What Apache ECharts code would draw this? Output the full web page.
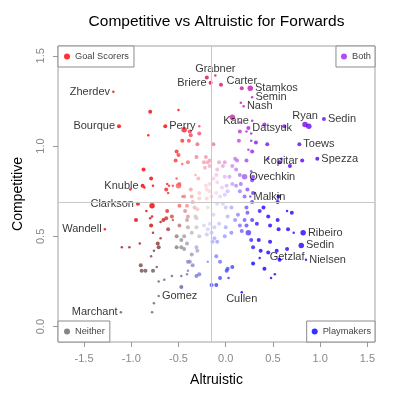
<!DOCTYPE html>
<html lang="en">
<head>
  <meta charset="UTF-8">
  <title>Competitive vs Altruistic for Forwards</title>
  <script src="https://cdn.jsdelivr.net/npm/echarts@6/dist/echarts.min.js"></script>
</head>
<body style="margin:0;background:#fff">
  <div id="main" style="width:400px;height:400px;"></div>
  <script type="text/javascript">
    // labelled forwards first, in the same order as the value arrays
    const players = ['Zherdev', 'Bourque', 'Perry', 'Knuble', 'Clarkson', 'Wandell', 'Marchant', 'Gomez',
      'Grabner', 'Briere', 'Carter', 'Stamkos', 'Semin', 'Nash', 'Kane', 'Datsyuk', 'Ryan', 'Sedin',
      'Toews', 'Kopitar', 'Spezza', 'Ovechkin', 'Malkin', 'Ribeiro', 'Sedin', 'Getzlaf', 'Nielsen', 'Cullen']
    const labelSide = ['left', 'left', 'right', 'left', 'left', 'left', 'left', 'right',
      'top', 'left', 'top', 'right', 'right', 'right', 'left', 'right', 'top', 'right',
      'right', 'left', 'right', 'right', 'right', 'right', 'right', 'bottom', 'right', 'bottom']

    const altruistic = [
      // labelled
      -1.19, -1.13, -0.64, -0.88, -0.93, -1.28, -1.11, -0.71, -0.11, -0.16, 0.17, 0.26, 0.28, 0.19,
      0.28, 0.24, 0.84, 1.04, 0.78, 0.81, 0.97, 0.20, 0.26, 0.82, 0.80, 0.65, 0.85, 0.17,
      // upper left
      -0.80, -0.50, -0.82, -0.44, -0.38, -0.28, -0.28, -0.37, -0.46, -0.39, -0.30, -0.52, -0.50, -0.53,
      -0.40, -0.46, -0.31, -0.21, -0.17, -0.19, -0.23, -0.22, -0.17, -0.87, -0.79, -0.77, -0.86, -1.01,
      -0.62, -0.60, -0.52, -0.49, -0.50, -0.56, -0.63, -0.61, -0.44, -0.37, -0.32, -0.21, -0.17, -0.20,
      -0.28, -0.36, -0.13, -0.29,
      // upper right
      -0.20, -0.05, 0.07, 0.16, 0.15, 0.22, 0.27, 0.41, 0.62, 0.88, 0.44, 0.27, 0.32, 0.14, 0.15, 0.22,
      0.24, 0.10, 0.12, 0.27, 0.45, 0.59, 0.57, 0.68, 0.29, 0.28, 0.56, 0.55, 0.07, 0.11, 0.15, 0.04,
      -0.09, -0.03, -0.01, -0.09, 0.01, 0.07, 0.15, 0.02, 0.20, 0.28, 0.11, 0.16, 0.23, 0.29, -0.07,
      -0.01, -0.10, -0.13, -0.04, -0.10, -0.01, -0.06, -0.17, -0.15,
      // lower left
      -0.78, -0.46, -0.35, -0.28, -0.20, -0.49, -0.41, -0.33, -0.09, 0.00, -0.95, -0.78, -0.80, -0.69,
      -0.66, -0.63, -0.57, -0.56, -0.79, -0.77, -0.61, -0.49, -0.41, -0.40, -0.31, -0.40, -0.36, -0.31,
      -0.52, -0.44, -0.47, -0.28, -0.20, -0.23, -0.17, -0.12, -0.07, 0.00, -0.69, -0.72, -0.71, -1.10,
      -1.02, -0.91, -0.79, -0.76, -0.90, -0.89, -0.85, -0.77, -0.73, -0.52, -0.47, -0.44, -0.41, -0.36,
      -0.38, -0.35, -0.40, -0.31, -0.30, -0.47, -0.57, -0.65, -0.71, -0.41, -0.40, -0.31, -0.28, -0.47,
      -0.76, -0.78, -0.15, -0.10, -0.10, -0.06, -0.19, 0.02, -0.12, -0.09, -0.14, -0.62, -0.43, -0.30,
      -0.19, -0.32, -0.15, -0.19, -0.03, 0.02, -0.84,
      // lower right
      0.10, 0.13, 0.20, 0.22, 0.15, 0.17, 0.28, 0.22, 0.06, 0.28, 0.23, 0.40, 0.36, 0.45, 0.65, 0.70,
      0.55, -0.13, 0.33, 0.47, 0.24, 0.35, 0.27, 0.29, 0.47, 0.56, 0.66, 0.72, 0.54, 0.45, 0.37, 0.36,
      0.57, 0.29, 0.41, 0.52, 0.48, 0.07, 0.01, -0.06, 0.03, 0.06, -0.01
    ]

    const competitive = [
      1.30, 1.11, 1.11, 0.78, 0.68, 0.54, 0.08, 0.17, 1.39, 1.35, 1.32, 1.32, 1.27, 1.22,
      1.14, 1.10, 1.12, 1.15, 1.01, 0.92, 0.93, 0.83, 0.72, 0.52, 0.45, 0.43, 0.37, 0.19,

      1.19, 1.20, 1.06, 1.09, 1.08, 1.11, 1.07, 1.06, 1.03, 1.03, 1.01, 0.97, 0.95, 0.92,
      0.91, 0.90, 0.94, 0.94, 0.92, 0.91, 0.91, 0.88, 0.89, 0.87, 0.82, 0.78, 0.77, 0.76,
      0.79, 0.78, 0.82, 0.79, 0.78, 0.78, 0.76, 0.74, 0.72, 0.76, 0.84, 0.78, 0.79, 0.76,
      0.74, 0.72, 1.01, 0.82,

      1.38, 1.34, 1.16, 1.24, 1.13, 1.08, 1.07, 1.12, 1.11, 1.11, 1.01, 1.03, 1.02, 1.03, 1.08, 0.92,
      0.98, 0.93, 0.92, 0.86, 0.93, 0.93, 0.91, 0.89, 0.83, 0.81, 0.72, 0.69, 0.89, 0.87, 0.84, 0.83,
      0.87, 0.89, 0.83, 0.80, 0.78, 0.79, 0.75, 0.75, 0.72, 0.97, 0.78, 0.79, 0.76, 0.74, 0.91,
      0.91, 0.84, 0.82, 0.77, 0.74, 0.73, 0.72, 0.75, 0.72,

      0.67, 0.72, 0.69, 0.71, 0.71, 0.67, 0.67, 0.66, 0.68, 0.66, 0.59, 0.61, 0.60, 0.58,
      0.59, 0.60, 0.61, 0.59, 0.56, 0.52, 0.54, 0.56, 0.59, 0.61, 0.60, 0.55, 0.52, 0.55,
      0.50, 0.50, 0.48, 0.50, 0.51, 0.56, 0.57, 0.55, 0.57, 0.55, 0.49, 0.46, 0.44, 0.44,
      0.44, 0.46, 0.39, 0.42, 0.34, 0.31, 0.31, 0.31, 0.33, 0.44, 0.44, 0.43, 0.46, 0.40,
      0.36, 0.34, 0.36, 0.44, 0.42, 0.28, 0.28, 0.26, 0.25, 0.29, 0.31, 0.28, 0.29, 0.22,
      0.13, 0.08, 0.23, 0.23, 0.39, 0.36, 0.36, 0.32, 0.49, 0.47, 0.47, 0.64, 0.64, 0.65,
      0.66, 0.61, 0.52, 0.54, 0.68, 0.61, 0.64,

      0.59, 0.62, 0.59, 0.56, 0.56, 0.53, 0.69, 0.66, 0.66, 0.59, 0.63, 0.66, 0.64, 0.61, 0.64, 0.63,
      0.59, 0.62, 0.57, 0.56, 0.52, 0.48, 0.48, 0.44, 0.47, 0.54, 0.54, 0.52, 0.42, 0.41, 0.42, 0.38,
      0.37, 0.35, 0.32, 0.29, 0.27, 0.33, 0.31, 0.27, 0.27, 0.52, 0.50
    ]

    // relative point weight (1 small .. 3 large)
    const weight = [
      1, 2, 2, 2, 2, 1, 1, 1, 1, 2, 2, 3, 1, 1, 1, 2, 3, 2, 2, 2, 2, 3, 1, 3, 3, 2, 1, 1,

      2, 1, 1, 3, 2, 1, 2, 2, 2, 2, 2, 2, 2, 2, 2, 1, 2, 2, 2, 2, 2, 2, 2, 2, 2, 1, 1, 1,
      1, 1, 1, 2, 3, 1, 2, 1, 2, 2, 1, 2, 2, 2, 2, 2, 2, 2,

      2, 2, 3, 1, 1, 1, 1, 2, 2, 3, 2, 1, 2, 2, 2, 2, 1, 2, 2, 1, 1, 1, 2, 2, 2, 2, 2, 2,
      2, 2, 2, 2, 2, 2, 2, 2, 2, 2, 2, 2, 2, 2, 2, 2, 2, 2, 2, 2, 2, 2, 2, 2, 2, 2, 2, 2,

      3, 1, 2, 2, 2, 2, 2, 2, 2, 2, 2, 1, 1, 1, 2, 2, 2, 1, 2, 1, 2, 2, 2, 2, 2, 2, 2, 2,
      2, 2, 2, 2, 2, 2, 2, 2, 2, 2, 1, 2, 2, 1, 1, 1, 1, 1, 2, 2, 2, 2, 1, 2, 2, 2, 2, 2,
      2, 2, 2, 2, 2, 1, 1, 1, 1, 1, 1, 2, 2, 2, 1, 1, 2, 2, 2, 2, 1, 2, 2, 2, 2, 2, 2, 2,
      2, 2, 2, 2, 2, 2, 1,

      2, 2, 2, 2, 2, 2, 2, 2, 2, 2, 2, 2, 2, 2, 1, 2, 2, 2, 2, 2, 3, 2, 2, 2, 2, 2, 2, 1,
      2, 2, 2, 1, 2, 2, 2, 1, 1, 2, 2, 2, 1, 2, 2
    ]

    const xTicks = [-1.5, -1, -0.5, 0, 0.5, 1, 1.5]
    const yTicks = [0, 0.5, 1, 1.5]
    const meanAltruistic = -0.15
    const meanCompetitive = 0.69

    const groups = ['Goal Scorers', 'Both', 'Neither', 'Playmakers']
    const groupColors = ['#ff0000', '#a020f0', '#666666', '#0000ff']

    const FONT = '"Liberation Sans", Arial, sans-serif'
    const sizes = [0, 2.5, 4, 5.5]

    // colour by direction from the mean point, fading to white near it
    const hueStops = [
      [0, [40, 0, 255]], [15, [90, 0, 240]], [30, [130, 16, 235]], [45, [165, 30, 225]],
      [62, [200, 20, 160]], [90, [215, 15, 90]], [115, [240, 5, 40]], [135, [255, 0, 0]],
      [185, [235, 0, 0]], [197, [170, 20, 20]], [207, [115, 75, 75]], [218, [100, 100, 110]],
      [235, [95, 95, 170]], [255, [70, 70, 220]], [275, [20, 20, 245]], [300, [0, 0, 255]],
      [360, [40, 0, 255]]
    ]
    function pointColor(x, y) {
      const dx = x - meanAltruistic
      const dy = y - meanCompetitive
      let ang = Math.atan2(dy, dx) * 180 / Math.PI
      if (ang < 0) ang += 360
      let c = hueStops[0][1]
      for (let i = 0; i < hueStops.length - 1; i++) {
        const a = hueStops[i], b = hueStops[i + 1]
        if (ang >= a[0] && ang <= b[0]) {
          const f = (ang - a[0]) / (b[0] - a[0])
          c = a[1].map((v, k) => v + (b[1][k] - v) * f)
          break
        }
      }
      const d = Math.sqrt(dx * dx + dy * dy)
      const t = Math.max(0.18, Math.min(1, Math.pow(d / 0.55, 1.1)))
      const rgb = c.map(v => Math.round(255 + (v - 255) * t))
      return 'rgb(' + rgb.join(',') + ')'
    }

    const points = altruistic.map((x, i) => {
      const item = { value: [x, competitive[i], weight[i]] }
      if (i < players.length) {
        const side = labelSide[i]
        item.name = players[i]
        item.label = {
          show: true,
          position: side,
          distance: (side === 'left' || side === 'right') ? 2 : 0,
          formatter: players[i]
        }
      }
      return item
    })

    const legendPos = [
      { left: 58, top: 46, padding: [6, 5, 6, 6] },
      { right: 25, top: 46, padding: [6, 4, 6, 5] },
      { left: 58, bottom: 58, padding: [6, 5, 6, 6] },
      { right: 25, bottom: 58, padding: [6, 4, 6, 5] }
    ]

    const myChart = echarts.init(document.getElementById('main'))
    myChart.setOption({
      animation: false,
      graphic: [{
        type: 'text',
        x: 216.5,
        y: 22,
        style: {
          text: 'Competitive vs Altruistic for Forwards',
          align: 'center',
          verticalAlign: 'middle',
          fontSize: 15.5,
          fontFamily: FONT,
          fill: '#000'
        }
      }],
      legend: groups.map((g, i) => Object.assign({
        data: [g],
        orient: 'horizontal',
        icon: 'circle',
        itemWidth: 6,
        itemHeight: 6,
        selectedMode: false,
        backgroundColor: '#fff',
        borderColor: '#8c8c8c',
        borderWidth: 1,
        borderRadius: 0,
        textStyle: { fontSize: 9.25, color: '#444', fontFamily: FONT }
      }, legendPos[i])),
      grid: {
        left: 58, right: 25, top: 46, bottom: 58,
        show: true,
        borderColor: '#a0a0a0',
        borderWidth: 1
      },
      xAxis: {
        type: 'value',
        min: -1.776,
        max: 1.581,
        name: 'Altruistic',
        nameLocation: 'middle',
        nameGap: 31,
        nameTextStyle: { fontSize: 14, color: '#000', fontFamily: FONT },
        axisLine: { show: false, onZero: false },
        axisTick: { show: true, customValues: xTicks, length: 5, lineStyle: { color: '#999' } },
        axisLabel: {
          customValues: xTicks,
          formatter: v => v.toFixed(1),
          color: '#888',
          fontSize: 11,
          fontFamily: FONT,
          margin: 11
        },
        splitLine: { show: false }
      },
      yAxis: {
        type: 'value',
        min: -0.085,
        max: 1.554,
        name: 'Competitive',
        nameLocation: 'middle',
        nameGap: 33,
        nameRotate: 90,
        nameTextStyle: { fontSize: 14, color: '#000', fontFamily: FONT },
        axisLine: { show: false, onZero: false },
        axisTick: { show: true, customValues: yTicks, length: 5, lineStyle: { color: '#999' } },
        axisLabel: {
          customValues: yTicks,
          formatter: v => v.toFixed(1),
          rotate: 90,
          color: '#888',
          fontSize: 11,
          fontFamily: FONT,
          margin: 12
        },
        splitLine: { show: false }
      },
      series: [
        {
          name: 'means',
          type: 'scatter',
          data: [],
          z: 1,
          markLine: {
            silent: true,
            symbol: ['none', 'none'],
            label: { show: false },
            lineStyle: { color: '#c8c8c8', width: 1, type: 'solid' },
            data: [{ xAxis: meanAltruistic }, { yAxis: meanCompetitive }]
          }
        },
        {
          name: 'forwards',
          type: 'scatter',
          z: 3,
          data: points,
          symbolSize: v => sizes[v[2]],
          itemStyle: {
            color: p => pointColor(p.value[0], p.value[1])
          },
          label: {
            show: false,
            color: '#000',
            fontSize: 11,
            fontFamily: FONT
          },
          emphasis: { disabled: true }
        }
      ].concat(groups.map((g, i) => ({
        name: g,
        type: 'scatter',
        data: [],
        itemStyle: { color: groupColors[i] }
      })))
    })
  </script>
</body>
</html>
